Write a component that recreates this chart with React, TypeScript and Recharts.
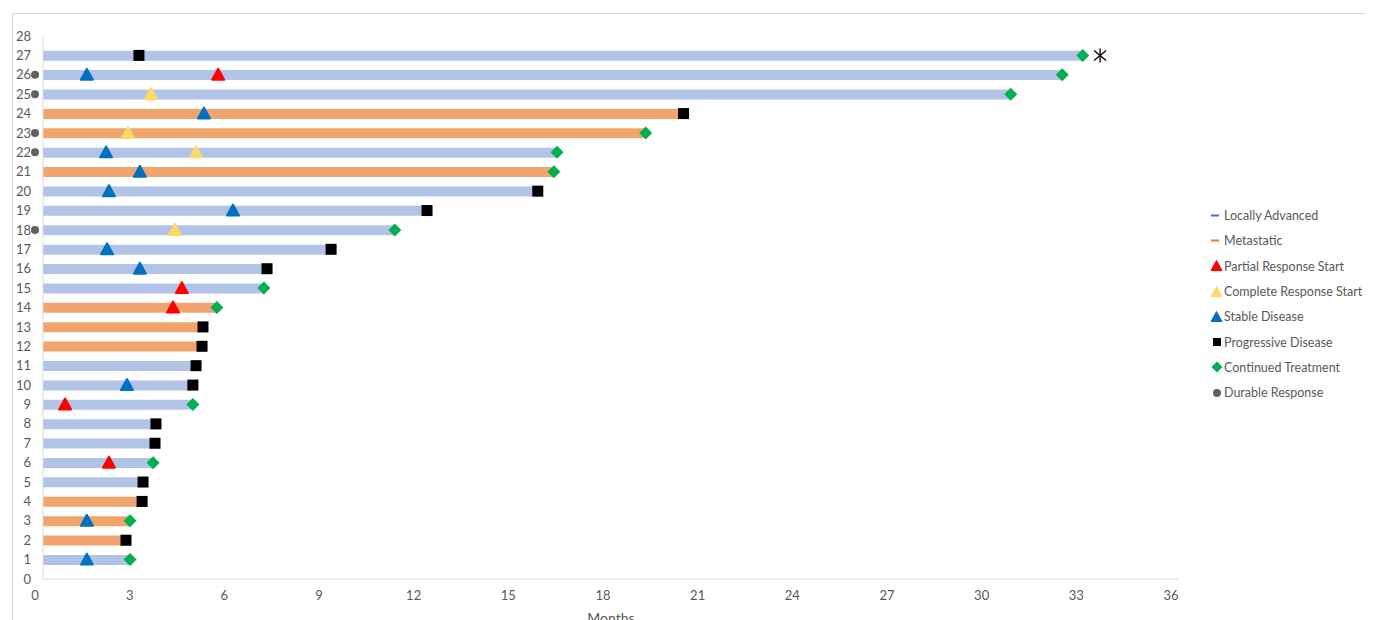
import { ComposedChart, Bar, Cell, Scatter, XAxis, YAxis, Label } from 'recharts'

// one row per patient, bottom (1) to top (27)
const rows = [1, 2, 3, 4, 5, 6, 7, 8, 9, 10, 11, 12, 13, 14, 15, 16, 17, 18, 19, 20, 21, 22, 23, 24, 25, 26, 27]
const duration = [
  2.76, 2.63, 2.76, 3.14, 3.17, 3.49, 3.55, 3.58, 4.75, 4.75, 4.85, 5.04, 5.07, 5.51,
  7.0, 7.1, 9.13, 11.15, 12.17, 15.68, 16.19, 16.29, 19.1, 20.3, 30.67, 32.3, 32.95,
]
const stage = [
  'LA', 'Met', 'Met', 'Met', 'LA', 'LA', 'LA', 'LA', 'LA', 'LA', 'LA', 'Met', 'Met', 'Met',
  'LA', 'LA', 'LA', 'LA', 'LA', 'LA', 'Met', 'LA', 'Met', 'Met', 'LA', 'LA', 'LA',
]
// how each bar ends: C = continued treatment, P = progressive disease
const ending = [
  'C', 'P', 'C', 'P', 'P', 'C', 'P', 'P', 'C', 'P', 'P', 'P', 'P', 'C',
  'C', 'P', 'P', 'C', 'P', 'P', 'C', 'C', 'C', 'P', 'C', 'C', 'C',
]

const partialRows = [26, 15, 14, 9, 6]
const partialMonths = [5.55, 4.4, 4.12, 0.7, 2.09]
const completeRows = [25, 23, 22, 18]
const completeMonths = [3.42, 2.69, 4.85, 4.18]
const stableRows = [26, 24, 22, 21, 20, 19, 17, 16, 10, 3, 1]
const stableMonths = [1.39, 5.1, 2.0, 3.07, 2.09, 6.02, 2.03, 3.07, 2.66, 1.39, 1.39]
const earlyProgressionRows = [27]
const earlyProgressionMonths = [3.04]
const durableRows = [26, 25, 23, 22, 18]
const ongoingRows = [27]
const ongoingMonths = [33.5]

const xTicks = [0, 3, 6, 9, 12, 15, 18, 21, 24, 27, 30, 33, 36]
const yTicks = [0, 1, 2, 3, 4, 5, 6, 7, 8, 9, 10, 11, 12, 13, 14, 15, 16, 17, 18, 19, 20, 21, 22, 23, 24, 25, 26, 27, 28]

const LA_COLOR = '#B1C4E8'
const MET_COLOR = '#F2A46F'
const RED = '#FF0000'
const YELLOW = '#FFD966'
const BLUE = '#0070C0'
const GREEN = '#00B050'
const GREY = '#606060'
const TEXT = '#595959'
const FONT = 'Lato, "Open Sans", sans-serif'

const barData = rows.map((r, i) => ({ row: r, months: duration[i], stage: stage[i] }))
const pts = (rs: number[], ms: number[]) => rs.map((r, i) => ({ row: r, month: ms[i] }))

const progressiveData = [
  ...pts(earlyProgressionRows, earlyProgressionMonths),
  ...rows.filter((_, i) => ending[i] === 'P').map((r) => ({ row: r, month: duration[r - 1] })),
]
const continuedData = rows.filter((_, i) => ending[i] === 'C').map((r) => ({ row: r, month: duration[r - 1] }))
const durableData = durableRows.map((r) => ({ row: r, month: 0 }))

const triangle = (color: string) => (p: any) => (
  <polygon
    points={`${p.cx},${p.cy - 6} ${p.cx + 6},${p.cy + 5} ${p.cx - 6},${p.cy + 5}`}
    fill={color}
    stroke={color}
    strokeWidth={2}
    strokeLinejoin="round"
  />
)
const square = (p: any) => <rect x={p.cx - 5.5} y={p.cy - 5.5} width={11} height={11} fill="#000" />
const diamond = (p: any) => (
  <polygon points={`${p.cx},${p.cy - 6.5} ${p.cx + 6.5},${p.cy} ${p.cx},${p.cy + 6.5} ${p.cx - 6.5},${p.cy}`} fill={GREEN} />
)
// durable response dot sits just left of the y axis
const durableDot = (p: any) => <circle cx={p.cx - 8} cy={p.cy} r={4} fill={GREY} />
const asterisk = (p: any) => (
  <g stroke="#000" strokeWidth={1.3}>
    <line x1={p.cx} y1={p.cy - 7} x2={p.cx} y2={p.cy + 7} />
    <line x1={p.cx - 6} y1={p.cy - 5} x2={p.cx + 6} y2={p.cy + 5} />
    <line x1={p.cx - 6} y1={p.cy + 5} x2={p.cx + 6} y2={p.cy - 5} />
  </g>
)

const legendItems = [
  { label: 'Locally Advanced', icon: <rect x={1} y={5.5} width={8} height={2} fill="#4472C4" /> },
  { label: 'Metastatic', icon: <rect x={1} y={5.5} width={8} height={2} fill="#ED7D31" /> },
  { label: 'Partial Response Start', icon: <polygon points="6.5,1.5 12,11.5 1,11.5" fill={RED} stroke={RED} strokeLinejoin="round" /> },
  { label: 'Complete Response Start', icon: <polygon points="6.5,1.5 12,11.5 1,11.5" fill={YELLOW} stroke={YELLOW} strokeLinejoin="round" /> },
  { label: 'Stable Disease', icon: <polygon points="6.5,1.5 12,11.5 1,11.5" fill={BLUE} stroke={BLUE} strokeLinejoin="round" /> },
  { label: 'Progressive Disease', icon: <rect x={3} y={3} width={8} height={8} fill="#000" /> },
  { label: 'Continued Treatment', icon: <polygon points="7,1.5 12.5,7 7,12.5 1.5,7" fill={GREEN} /> },
  { label: 'Durable Response', icon: <circle cx={7} cy={7} r={4} fill={GREY} /> },
]

export default function App() {
  return (
    <div style={{ position: 'relative', width: 1365, height: 612, overflow: 'hidden', fontFamily: FONT }}>
      <div
        style={{
          position: 'absolute',
          left: 4,
          top: 5,
          width: 1400,
          height: 700,
          borderTop: '1px solid #D9D9D9',
          borderLeft: '1px solid #D9D9D9',
        }}
      />
      <div style={{ position: 'absolute', left: 0, top: 0 }}>
        <ComposedChart
          width={1365}
          height={640}
          layout="vertical"
          data={barData}
          margin={{ top: 28, right: 194, bottom: 29, left: 0 }}
        >
          <XAxis
            type="number"
            domain={[0, 36]}
            ticks={xTicks}
            interval={0}
            height={40}
            axisLine={{ stroke: '#D9D9D9' }}
            tickLine={false}
            tick={{ fill: TEXT, fontSize: 13, fontFamily: FONT, dx: -8 }}
            tickMargin={6}
          >
            <Label value="Months" position="insideBottom" offset={-4} fill={TEXT} fontSize={14} fontFamily={FONT} />
          </XAxis>
          <YAxis
            type="number"
            dataKey="row"
            domain={[0, 28]}
            ticks={yTicks}
            interval={0}
            reversed
            width={35}
            axisLine={{ stroke: '#D9D9D9' }}
            tickLine={false}
            tickMargin={6}
            tick={{ fill: TEXT, fontSize: 13, fontFamily: FONT }}
          />
          <Bar dataKey="months" barSize={10} isAnimationActive={false}>
            {barData.map((d) => (
              <Cell key={d.row} fill={d.stage === 'LA' ? LA_COLOR : MET_COLOR} />
            ))}
          </Bar>
          <Scatter data={pts(stableRows, stableMonths)} dataKey="month" shape={triangle(BLUE)} isAnimationActive={false} />
          <Scatter data={pts(partialRows, partialMonths)} dataKey="month" shape={triangle(RED)} isAnimationActive={false} />
          <Scatter data={pts(completeRows, completeMonths)} dataKey="month" shape={triangle(YELLOW)} isAnimationActive={false} />
          <Scatter data={progressiveData} dataKey="month" shape={square} isAnimationActive={false} />
          <Scatter data={continuedData} dataKey="month" shape={diamond} isAnimationActive={false} />
          <Scatter data={durableData} dataKey="month" shape={durableDot} isAnimationActive={false} />
          <Scatter data={pts(ongoingRows, ongoingMonths)} dataKey="month" shape={asterisk} isAnimationActive={false} />
        </ComposedChart>
      </div>
      <div style={{ position: 'absolute', left: 1203, top: 195, fontSize: 12.5, color: TEXT }}>
        {legendItems.map((it) => (
          <div key={it.label} style={{ height: 25.3, display: 'flex', alignItems: 'center' }}>
            <svg width={14} height={14} style={{ marginLeft: -1, marginRight: 0 }}>
              {it.icon}
            </svg>
            <span style={{ whiteSpace: 'nowrap' }}>{it.label}</span>
          </div>
        ))}
      </div>
    </div>
  )
}
